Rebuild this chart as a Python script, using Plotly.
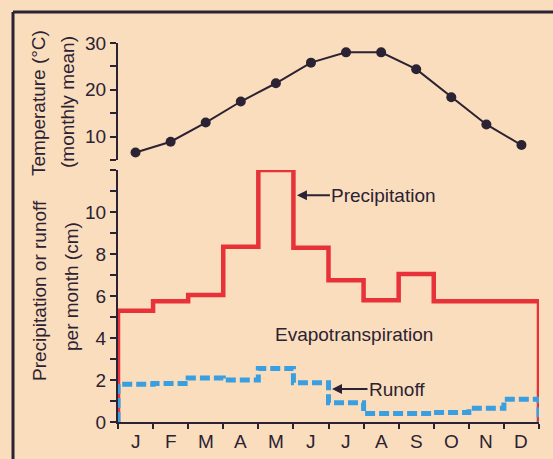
import plotly.graph_objects as go

# Monthly climate record
months = ["J", "F", "M", "A", "M", "J", "J", "A", "S", "O", "N", "D"]
temperature_c = [6.6, 8.9, 13.0, 17.5, 21.4, 25.8, 28.0, 28.0, 24.4, 18.4, 12.6, 8.2]
precipitation_cm = [5.3, 5.75, 6.05, 8.35, 12.0, 8.3, 6.75, 5.8, 7.05, 5.75, 5.75, 5.75]
runoff_cm = [1.8, 1.83, 2.1, 2.0, 2.55, 1.87, 0.92, 0.4, 0.4, 0.45, 0.65, 1.08]

temp_ticks = [5, 10, 15, 20, 25, 30]
temp_ticktext = ["", "10", "", "20", "", "30"]
water_ticks = list(range(0, 13))
water_ticktext = ["0", "", "2", "", "4", "", "6", "", "8", "", "10", "", ""]

# Canvas geometry (pixels)
W, H = 553, 459
LEFT, RIGHT, TOP, BOTTOM = 118, 539, 43, 422


def px_x(p):
    return (p - LEFT) / (RIGHT - LEFT)


def px_y(p):
    return (BOTTOM - p) / (BOTTOM - TOP)


BG = "#FADDBD"
INK = "#2b2233"
RED = "#E8323A"
BLUE = "#3A9FE0"
FONT = "Liberation Sans, Arial, Helvetica, sans-serif"

n = len(months)
centers = [i + 0.5 for i in range(n)]

# Step outlines: start at zero on the left edge, finish back at zero on the right edge
step_x = [0] + list(range(n)) + [n, n]
precip_y = [0] + precipitation_cm + [precipitation_cm[-1], 0]
runoff_y = [0] + runoff_cm + [runoff_cm[-1], 0]

fig = go.Figure()

fig.add_trace(go.Scatter(
    x=step_x, y=precip_y, mode="lines", line_shape="hv",
    line=dict(color=RED, width=4.5), xaxis="x", yaxis="y",
    name="Precipitation", showlegend=False,
))
fig.add_trace(go.Scatter(
    x=step_x, y=runoff_y, mode="lines", line_shape="hv",
    line=dict(color=BLUE, width=5, dash="10px,4px"), xaxis="x", yaxis="y",
    name="Runoff", showlegend=False,
))
fig.add_trace(go.Scatter(
    x=centers, y=temperature_c, mode="lines+markers",
    line=dict(color=INK, width=2), marker=dict(color=INK, size=10),
    xaxis="x", yaxis="y2", name="Temperature", showlegend=False,
))

axis_common = dict(
    showline=True, linecolor=INK, linewidth=2, showgrid=False, zeroline=False,
    ticks="outside", tickcolor=INK, tickwidth=2,
    tickfont=dict(family=FONT, size=19, color=INK),
)

fig.update_layout(
    width=W, height=H,
    margin=dict(l=LEFT, r=W - RIGHT, t=TOP, b=H - BOTTOM, pad=0),
    paper_bgcolor=BG, plot_bgcolor=BG,
    xaxis=dict(
        **axis_common, range=[0, n], tickmode="array",
        tickvals=list(range(n + 1)), ticktext=[""] * (n + 1), ticklen=5,
        anchor="y",
    ),
    yaxis=dict(
        **axis_common, range=[0, 12], domain=[0, px_y(170)],
        tickmode="array", tickvals=water_ticks, ticktext=water_ticktext,
        ticklen=6, anchor="x",
    ),
    yaxis2=dict(
        **axis_common, range=[5, 30], domain=[px_y(160), 1],
        tickmode="array", tickvals=temp_ticks, ticktext=temp_ticktext,
        ticklen=6, anchor="x",
    ),
)

annotations = []

# Month letters under the axis
for c, m in zip(centers, months):
    annotations.append(dict(
        x=c, y=px_y(441), xref="x", yref="paper", text=m, showarrow=False,
        xanchor="center", yanchor="middle",
        font=dict(family=FONT, size=19, color=INK),
    ))

# Axis titles
for text, cx, cy in [
    ("Temperature (°C)", 38, 103),
    ("(monthly mean)", 67, 102),
    ("Precipitation or runoff", 39, 291),
    ("per month (cm)", 71, 287),
]:
    annotations.append(dict(
        x=px_x(cx), y=px_y(cy), xref="paper", yref="paper", text=text,
        showarrow=False, textangle=-90, xanchor="center", yanchor="middle",
        font=dict(family=FONT, size=19, color=INK),
    ))

# Series labels with pointers
annotations.append(dict(
    x=5.1, y=10.8, xref="x", yref="y", text="Precipitation",
    showarrow=True, arrowhead=2, arrowsize=1, arrowwidth=2, arrowcolor=INK,
    ax=87, ay=0, font=dict(family=FONT, size=19, color=INK),
))
annotations.append(dict(
    x=6.1, y=1.57, xref="x", yref="y", text="Runoff",
    showarrow=True, arrowhead=2, arrowsize=1, arrowwidth=2, arrowcolor=INK,
    ax=65, ay=0, font=dict(family=FONT, size=19, color=INK),
))
annotations.append(dict(
    x=6.74, y=4.19, xref="x", yref="y", text="Evapotranspiration",
    showarrow=False, font=dict(family=FONT, size=19, color=INK),
))

fig.update_layout(annotations=annotations)

# Printed frame around the figure
fig.add_shape(type="line", xref="paper", yref="paper",
              x0=px_x(13), y0=px_y(12), x1=px_x(13), y1=px_y(480),
              line=dict(color=INK, width=3))
fig.add_shape(type="line", xref="paper", yref="paper",
              x0=px_x(13), y0=px_y(12), x1=px_x(570), y1=px_y(12),
              line=dict(color=INK, width=3))

fig.write_html("out.html")
